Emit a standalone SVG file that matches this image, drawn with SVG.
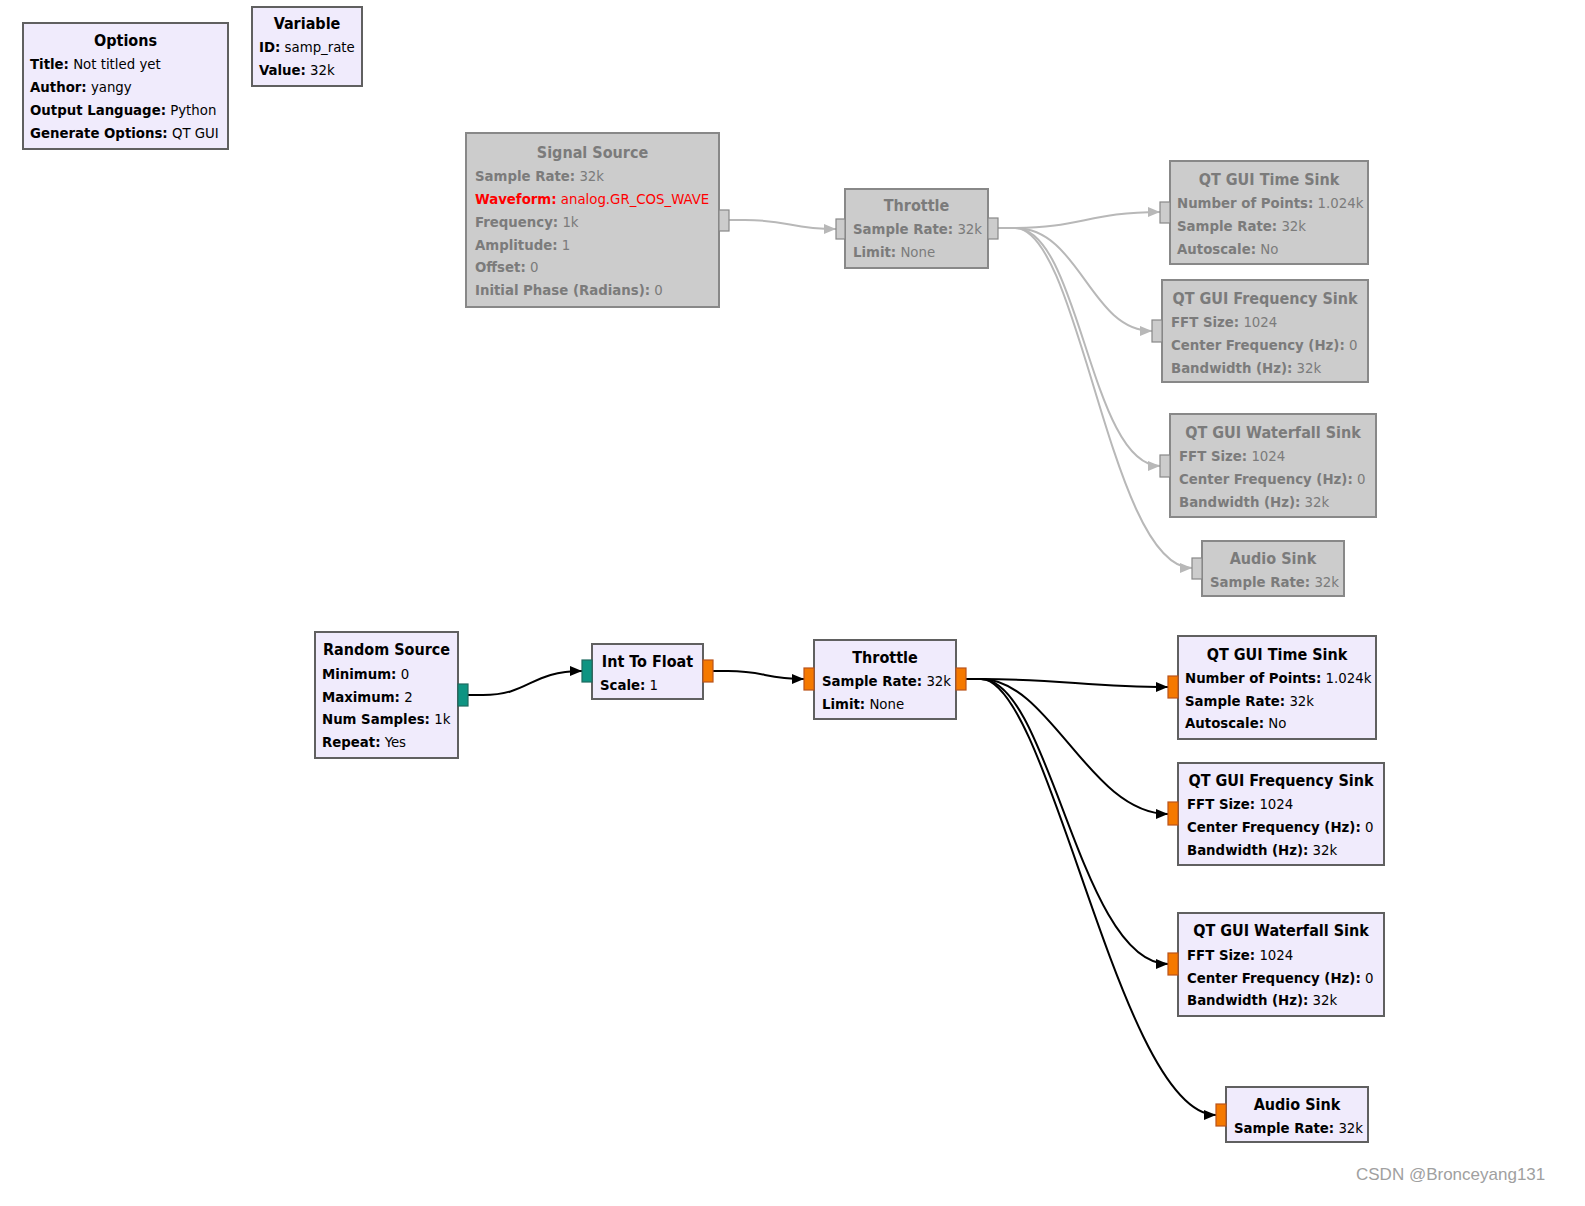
<svg xmlns="http://www.w3.org/2000/svg" width="1585" height="1206" viewBox="0 0 1585 1206">
<style>
text{font-family:"DejaVu Sans Condensed","DejaVu Sans",sans-serif;font-size:14.8px;fill:#000}
.t{font-weight:bold;font-size:16px;text-anchor:middle}
.b{font-weight:bold}
.n{fill:#f0ebfc;stroke:#606060;stroke-width:2}
.d{fill:#cccccc;stroke:#888888;stroke-width:2}
.dis text{fill:#7b7b7b}
.dis text.red,.dis tspan.red{fill:#ff0000}
.po{fill:#f57900;stroke:#b9541b;stroke-width:1.2}
.pt{fill:#0e9482;stroke:#1f6b60;stroke-width:1.2}
.pd{fill:#cccccc;stroke:#888888;stroke-width:1.2}
.c{fill:none;stroke:#000;stroke-width:2}
.cd{fill:none;stroke:#b8b8b8;stroke-width:2}
.wm{font-family:"Liberation Sans",sans-serif;font-size:17px;fill:#a0a0a0}
</style>
<defs>
<marker id="a" viewBox="0 0 12 10" refX="12" refY="5" markerWidth="12" markerHeight="10" markerUnits="userSpaceOnUse" orient="auto"><path d="M0,0 L12,5 L0,10 z" fill="#000"/></marker>
<marker id="ad" viewBox="0 0 12 10" refX="12" refY="5" markerWidth="12" markerHeight="10" markerUnits="userSpaceOnUse" orient="auto"><path d="M0,0 L12,5 L0,10 z" fill="#b8b8b8"/></marker>
</defs>
<rect width="1585" height="1206" fill="#fff"/>

<g id="connectors">
<path class="cd" marker-end="url(#ad)" d="M729,220 L745,220 C790,220 790,229 836,229"/>
<path class="cd" marker-end="url(#ad)" d="M998,228 L1015,228 C1080,228 1090,212 1160,212"/>
<path class="cd" marker-end="url(#ad)" d="M998,228 L1015,228 C1080,228 1090,331 1152,331"/>
<path class="cd" marker-end="url(#ad)" d="M998,228 L1015,228 C1080,228 1090,466 1160,466"/>
<path class="cd" marker-end="url(#ad)" d="M998,228 L1015,228 C1080,228 1110,568 1192,568"/>
<path class="c" marker-end="url(#a)" d="M468,695 L483,695 C530,695 530,671 582,671"/>
<path class="c" marker-end="url(#a)" d="M713,671 L728,671 C765,671 765,679 804,679"/>
<path class="c" marker-end="url(#a)" d="M966,679 L981,679 C1060,679 1090,687 1168,687"/>
<path class="c" marker-end="url(#a)" d="M966,679 L981,679 C1050,679 1090,814 1168,814"/>
<path class="c" marker-end="url(#a)" d="M966,679 L981,679 C1050,679 1080,964 1168,964"/>
<path class="c" marker-end="url(#a)" d="M966,679 L981,679 C1050,679 1120,1115 1216,1115"/>
</g>

<g id="options">
<rect class="n" x="23" y="23" width="205" height="126"/>
<text class="t" x="125.5" y="46">Options</text>
<text x="30" y="69"><tspan class="b">Title:</tspan> Not titled yet</text>
<text x="30" y="92"><tspan class="b">Author:</tspan> yangy</text>
<text x="30" y="115"><tspan class="b">Output Language:</tspan> Python</text>
<text x="30" y="138"><tspan class="b">Generate Options:</tspan> QT GUI</text>
</g>

<g id="variable">
<rect class="n" x="252" y="7" width="110" height="79"/>
<text class="t" x="307" y="29">Variable</text>
<text x="259" y="52"><tspan class="b">ID:</tspan> samp_rate</text>
<text x="259" y="75"><tspan class="b">Value:</tspan> 32k</text>
</g>

<g id="signal_source" class="dis">
<rect class="d" x="466" y="133" width="253" height="174"/>
<rect class="pd" x="719" y="210" width="10" height="21"/>
<text class="t" x="592.5" y="158">Signal Source</text>
<text x="475" y="181"><tspan class="b">Sample Rate:</tspan> 32k</text>
<text x="475" y="204" class="red"><tspan class="b red">Waveform:</tspan> analog.GR_COS_WAVE</text>
<text x="475" y="227"><tspan class="b">Frequency:</tspan> 1k</text>
<text x="475" y="250"><tspan class="b">Amplitude:</tspan> 1</text>
<text x="475" y="272"><tspan class="b">Offset:</tspan> 0</text>
<text x="475" y="295"><tspan class="b">Initial Phase (Radians):</tspan> 0</text>
</g>

<g id="throttle_top" class="dis">
<rect class="d" x="845" y="189" width="143" height="79"/>
<rect class="pd" x="836" y="219" width="9" height="20"/>
<rect class="pd" x="988" y="218" width="10" height="21"/>
<text class="t" x="916.5" y="211">Throttle</text>
<text x="853" y="234"><tspan class="b">Sample Rate:</tspan> 32k</text>
<text x="853" y="257"><tspan class="b">Limit:</tspan> None</text>
</g>

<g id="time_sink_top" class="dis">
<rect class="d" x="1170" y="161" width="198" height="103"/>
<rect class="pd" x="1160" y="202" width="10" height="21"/>
<text class="t" x="1269" y="185">QT GUI Time Sink</text>
<text x="1177" y="208"><tspan class="b">Number of Points:</tspan> 1.024k</text>
<text x="1177" y="231"><tspan class="b">Sample Rate:</tspan> 32k</text>
<text x="1177" y="254"><tspan class="b">Autoscale:</tspan> No</text>
</g>

<g id="freq_sink_top" class="dis">
<rect class="d" x="1162" y="280" width="206" height="102"/>
<rect class="pd" x="1152" y="320" width="10" height="22"/>
<text class="t" x="1265" y="304">QT GUI Frequency Sink</text>
<text x="1171" y="327"><tspan class="b">FFT Size:</tspan> 1024</text>
<text x="1171" y="350"><tspan class="b">Center Frequency (Hz):</tspan> 0</text>
<text x="1171" y="373"><tspan class="b">Bandwidth (Hz):</tspan> 32k</text>
</g>

<g id="waterfall_sink_top" class="dis">
<rect class="d" x="1170" y="414" width="206" height="103"/>
<rect class="pd" x="1160" y="455" width="10" height="22"/>
<text class="t" x="1273" y="438">QT GUI Waterfall Sink</text>
<text x="1179" y="461"><tspan class="b">FFT Size:</tspan> 1024</text>
<text x="1179" y="484"><tspan class="b">Center Frequency (Hz):</tspan> 0</text>
<text x="1179" y="507"><tspan class="b">Bandwidth (Hz):</tspan> 32k</text>
</g>

<g id="audio_sink_top" class="dis">
<rect class="d" x="1202" y="541" width="142" height="55"/>
<rect class="pd" x="1192" y="558" width="10" height="21"/>
<text class="t" x="1273" y="564">Audio Sink</text>
<text x="1210" y="587"><tspan class="b">Sample Rate:</tspan> 32k</text>
</g>

<g id="random_source">
<rect class="n" x="315" y="632" width="143" height="126"/>
<rect class="pt" x="458" y="684" width="10" height="22"/>
<text class="t" x="386.5" y="655">Random Source</text>
<text x="322" y="679"><tspan class="b">Minimum:</tspan> 0</text>
<text x="322" y="702"><tspan class="b">Maximum:</tspan> 2</text>
<text x="322" y="724"><tspan class="b">Num Samples:</tspan> 1k</text>
<text x="322" y="747"><tspan class="b">Repeat:</tspan> Yes</text>
</g>

<g id="int_to_float">
<rect class="n" x="592" y="644" width="111" height="55"/>
<rect class="pt" x="582" y="660" width="10" height="22"/>
<rect class="po" x="703" y="660" width="10" height="22"/>
<text class="t" x="647.5" y="667">Int To Float</text>
<text x="600" y="690"><tspan class="b">Scale:</tspan> 1</text>
</g>

<g id="throttle">
<rect class="n" x="814" y="640" width="142" height="79"/>
<rect class="po" x="804" y="668" width="10" height="22"/>
<rect class="po" x="956" y="668" width="10" height="22"/>
<text class="t" x="885" y="663">Throttle</text>
<text x="822" y="686"><tspan class="b">Sample Rate:</tspan> 32k</text>
<text x="822" y="709"><tspan class="b">Limit:</tspan> None</text>
</g>

<g id="time_sink">
<rect class="n" x="1178" y="636" width="198" height="103"/>
<rect class="po" x="1168" y="676" width="10" height="22"/>
<text class="t" x="1277" y="660">QT GUI Time Sink</text>
<text x="1185" y="683"><tspan class="b">Number of Points:</tspan> 1.024k</text>
<text x="1185" y="706"><tspan class="b">Sample Rate:</tspan> 32k</text>
<text x="1185" y="728"><tspan class="b">Autoscale:</tspan> No</text>
</g>

<g id="freq_sink">
<rect class="n" x="1178" y="763" width="206" height="102"/>
<rect class="po" x="1168" y="802" width="10" height="23"/>
<text class="t" x="1281" y="786">QT GUI Frequency Sink</text>
<text x="1187" y="809"><tspan class="b">FFT Size:</tspan> 1024</text>
<text x="1187" y="832"><tspan class="b">Center Frequency (Hz):</tspan> 0</text>
<text x="1187" y="855"><tspan class="b">Bandwidth (Hz):</tspan> 32k</text>
</g>

<g id="waterfall_sink">
<rect class="n" x="1178" y="913" width="206" height="103"/>
<rect class="po" x="1168" y="953" width="10" height="22"/>
<text class="t" x="1281" y="936">QT GUI Waterfall Sink</text>
<text x="1187" y="960"><tspan class="b">FFT Size:</tspan> 1024</text>
<text x="1187" y="983"><tspan class="b">Center Frequency (Hz):</tspan> 0</text>
<text x="1187" y="1005"><tspan class="b">Bandwidth (Hz):</tspan> 32k</text>
</g>

<g id="audio_sink">
<rect class="n" x="1226" y="1087" width="142" height="55"/>
<rect class="po" x="1216" y="1104" width="10" height="22"/>
<text class="t" x="1297" y="1110">Audio Sink</text>
<text x="1234" y="1133"><tspan class="b">Sample Rate:</tspan> 32k</text>
</g>

<text class="wm" x="1356" y="1180">CSDN @Bronceyang131</text>
</svg>
